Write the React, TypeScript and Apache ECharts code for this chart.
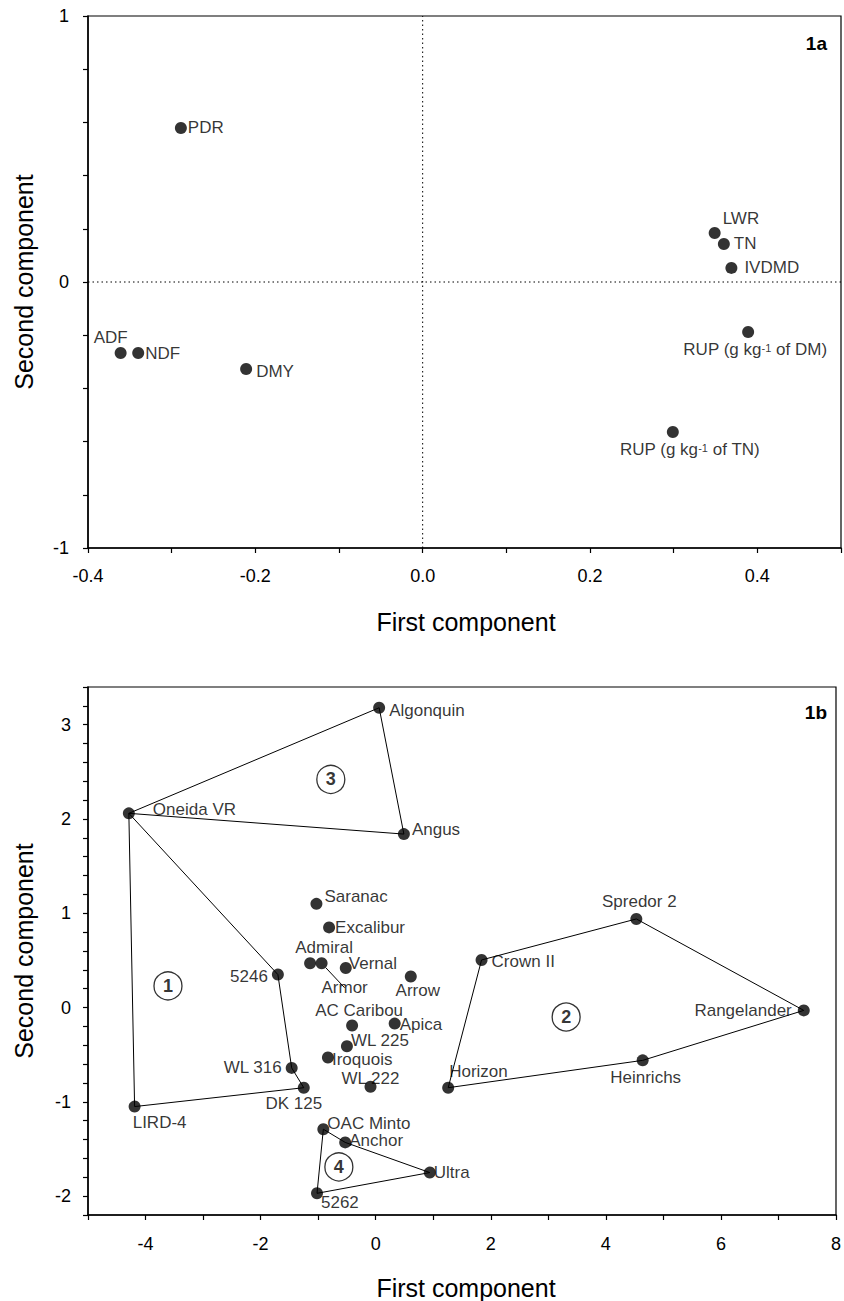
import React, { useEffect, useRef } from 'react';
import * as echarts from 'echarts';

// ---------- Panel 1a: variable loadings ----------
const varNames = ['PDR', 'LWR', 'TN', 'IVDMD', 'ADF', 'NDF', 'DMY', 'RUP (g kg-1 of DM)', 'RUP (g kg-1 of TN)'];
const varX = [-0.289, 0.349, 0.36, 0.369, -0.361, -0.34, -0.211, 0.389, 0.299];
const varY = [0.579, 0.184, 0.143, 0.053, -0.267, -0.267, -0.327, -0.188, -0.564];

// ---------- Panel 1b: cultivar scores ----------
const cvNames = ['Algonquin', 'Oneida VR', 'Angus', 'Saranac', 'Excalibur', 'Admiral', 'Armor', 'Vernal', '5246', 'Arrow',
  'Spredor 2', 'Crown II', 'Rangelander', 'Heinrichs', 'Horizon', 'AC Caribou', 'Apica', 'WL 225', 'Iroquois', 'WL 222',
  'WL 316', 'DK 125', 'LIRD-4', 'OAC Minto', 'Anchor', 'Ultra', '5262'];
const cvX = [0.06, -4.29, 0.49, -1.03, -0.81, -1.14, -0.94, -0.52, -1.7, 0.61,
  4.53, 1.84, 7.44, 4.64, 1.26, -0.41, 0.33, -0.5, -0.83, -0.09,
  -1.46, -1.25, -4.19, -0.91, -0.53, 0.94, -1.02];
const cvY = [3.18, 2.06, 1.84, 1.1, 0.85, 0.47, 0.47, 0.42, 0.35, 0.33,
  0.94, 0.505, -0.03, -0.56, -0.85, -0.19, -0.17, -0.41, -0.53, -0.84,
  -0.64, -0.85, -1.05, -1.29, -1.43, -1.75, -1.97];

// group hulls (closed outlines) and group markers
const hull1 = ['Oneida VR', '5246', 'WL 316', 'DK 125', 'LIRD-4', 'Oneida VR'];
const hull2 = ['Crown II', 'Spredor 2', 'Rangelander', 'Heinrichs', 'Horizon', 'Crown II'];
const hull3 = ['Oneida VR', 'Algonquin', 'Angus', 'Oneida VR'];
const hull4 = ['OAC Minto', 'Anchor', 'Ultra', '5262', 'OAC Minto'];
const groupIds = ['1', '2', '3', '4'];
const groupX = [-3.61, 3.31, -0.78, -0.64];
const groupY = [0.23, -0.1, 2.42, -1.69];

// axis ranges
const ax1X = [-0.4, 0.5];
const ax1Y = [-1, 1];
const ax2X = [-5, 8];
const ax2Y = [-2.2, 3.4];

// ---------- label placement (styling) ----------
type LP = { pos: string; off: number[]; line?: boolean };
const varLabelPos: Record<string, LP> = {
  'PDR': { pos: 'right', off: [-3, 0] },
  'LWR': { pos: 'right', off: [-2, -15] },
  'TN': { pos: 'right', off: [0, 0] },
  'IVDMD': { pos: 'right', off: [3, 0] },
  'ADF': { pos: 'top', off: [-10, 2] },
  'NDF': { pos: 'right', off: [-3, 0] },
  'DMY': { pos: 'right', off: [0, 3] },
  'RUP (g kg-1 of DM)': { pos: 'bottom', off: [7, 0] },
  'RUP (g kg-1 of TN)': { pos: 'bottom', off: [17, 0] },
};
const cvLabelPos: Record<string, LP> = {
  'Algonquin': { pos: 'right', off: [0, 3] },
  'Oneida VR': { pos: 'right', off: [14, -4] },
  'Angus': { pos: 'right', off: [-2, -5] },
  'Saranac': { pos: 'right', off: [-2, -7] },
  'Excalibur': { pos: 'right', off: [-4, 0] },
  'Admiral': { pos: 'top', off: [14, 2] },
  'Armor': { pos: 'bottom', off: [23, 7], line: true },
  'Vernal': { pos: 'right', off: [-7, -4] },
  '5246': { pos: 'left', off: [0, 2] },
  'Arrow': { pos: 'bottom', off: [7, -3] },
  'Spredor 2': { pos: 'top', off: [3, 0] },
  'Crown II': { pos: 'right', off: [0, 2] },
  'Rangelander': { pos: 'left', off: [-2, 0] },
  'Heinrichs': { pos: 'bottom', off: [3, 0] },
  'Horizon': { pos: 'right', off: [-9, -16] },
  'AC Caribou': { pos: 'top', off: [7, 3] },
  'Apica': { pos: 'right', off: [-5, 1] },
  'WL 225': { pos: 'right', off: [-6, -6] },
  'Iroquois': { pos: 'right', off: [-6, 2] },
  'WL 222': { pos: 'top', off: [0, 9] },
  'WL 316': { pos: 'left', off: [0, 0] },
  'DK 125': { pos: 'bottom', off: [-10, -2] },
  'LIRD-4': { pos: 'bottom', off: [25, -2] },
  'OAC Minto': { pos: 'right', off: [-6, -6] },
  'Anchor': { pos: 'right', off: [-6, -2] },
  'Ultra': { pos: 'right', off: [-6, 0] },
  '5262': { pos: 'right', off: [-6, 9] },
};

const FONT = '"Liberation Sans", Arial, Helvetica, sans-serif';
const BLACK = '#000';

function hullData(names: string[]) {
  return names.map((n) => {
    const i = cvNames.indexOf(n);
    return [cvX[i], cvY[i]];
  });
}

function labelFor(lp: LP) {
  return {
    show: true,
    position: lp.pos,
    offset: lp.off,
    distance: 4,
  };
}

export default function App() {
  const ref = useRef<HTMLDivElement>(null);

  useEffect(() => {
    if (!ref.current) return;
    const chart = echarts.init(ref.current, undefined, { renderer: 'svg' });

    const axisLineStyle = { show: true, onZero: false, lineStyle: { color: BLACK, width: 1.5 } };
    const tickStyle = { show: true, inside: false, length: 5, lineStyle: { color: BLACK, width: 1.2 } };
    const tickFont = { color: BLACK, fontSize: 18, fontFamily: FONT };

    const yFmt = (v: number) => {
      const k = Math.round(v * 5);
      return k % 5 === 0 ? String(k / 5 === 0 ? 0 : k / 5) : '';
    };

    const varData = varNames.map((n, i) => {
      const lp = varLabelPos[n];
      return { name: n, value: [varX[i], varY[i]], label: labelFor(lp) };
    });
    const cvData = cvNames.map((n, i) => {
      const lp = cvLabelPos[n];
      const item: any = { name: n, value: [cvX[i], cvY[i]], label: labelFor(lp) };
      if (lp.line) {
        item.labelLine = { show: true, length2: 0, lineStyle: { color: BLACK, width: 1 } };
      }
      return item;
    });
    const groupData = groupIds.map((g, i) => ({ name: g, value: [groupX[i], groupY[i]] }));

    const hullSeries = [hull1, hull2, hull3, hull4].map((h) => ({
      type: 'line',
      xAxisIndex: 1,
      yAxisIndex: 1,
      data: hullData(h),
      symbol: 'none',
      lineStyle: { color: BLACK, width: 1 },
      z: 2,
      silent: true,
    }));

    const pointLabelStyle = {
      color: BLACK,
      fontSize: 17,
      fontFamily: FONT,
      lineHeight: 15,
      rich: {
        sup: { fontSize: 11, fontFamily: FONT, color: BLACK, verticalAlign: 'top', lineHeight: 11 },
      },
    };

    const option: any = {
      animation: false,
      backgroundColor: '#fff',
      grid: [
        { left: 88, top: 16, width: 755, height: 532, show: true, borderColor: BLACK, borderWidth: 1.2, backgroundColor: 'transparent' },
        { left: 88, top: 687, width: 754, height: 528, show: true, borderColor: BLACK, borderWidth: 1.2, backgroundColor: 'transparent' },
      ],
      xAxis: [
        {
          type: 'value', gridIndex: 0, min: ax1X[0], max: ax1X[1], interval: 0.1,
          axisLine: axisLineStyle, axisTick: tickStyle, splitLine: { show: false },
          axisLabel: {
            ...tickFont, margin: 19, showMaxLabel: true,
            formatter: (v: number) => {
              const k = Math.round(v * 10);
              return k % 2 === 0 ? (k / 10).toFixed(1) : '';
            },
          },
        },
        {
          type: 'value', gridIndex: 1, min: ax2X[0], max: ax2X[1], interval: 1,
          axisLine: axisLineStyle, axisTick: tickStyle, splitLine: { show: false },
          axisLabel: {
            ...tickFont, margin: 20, showMaxLabel: true,
            formatter: (v: number) => (Math.round(v) % 2 === 0 ? String(Math.round(v) === 0 ? 0 : Math.round(v)) : ''),
          },
        },
      ],
      yAxis: [
        {
          type: 'value', gridIndex: 0, min: ax1Y[0], max: ax1Y[1], interval: 0.2,
          axisLine: axisLineStyle, axisTick: tickStyle, splitLine: { show: false },
          axisLabel: { ...tickFont, margin: 19, formatter: yFmt },
        },
        {
          type: 'value', gridIndex: 1, min: ax2Y[0], max: ax2Y[1], interval: 0.2,
          axisLine: axisLineStyle, axisTick: tickStyle, splitLine: { show: false },
          axisLabel: { ...tickFont, margin: 17, formatter: yFmt },
        },
      ],
      series: [
        {
          type: 'line', xAxisIndex: 0, yAxisIndex: 0, symbol: 'none', silent: true, z: 1,
          data: [[ax1X[0], 0], [ax1X[1], 0]],
          lineStyle: { color: BLACK, width: 1, type: [1.5, 3] },
        },
        {
          type: 'line', xAxisIndex: 0, yAxisIndex: 0, symbol: 'none', silent: true, z: 1,
          data: [[0, ax1Y[0]], [0, ax1Y[1]]],
          lineStyle: { color: BLACK, width: 1, type: [1.5, 3] },
        },
        {
          type: 'scatter', xAxisIndex: 0, yAxisIndex: 0, symbol: 'circle', symbolSize: 12, z: 5,
          itemStyle: { color: BLACK },
          data: varData,
          label: {
            ...pointLabelStyle,
            formatter: (p: any) => p.name.replace('kg-1', 'kg{sup|-1}'),
          },
        },
        ...hullSeries,
        {
          type: 'scatter', xAxisIndex: 1, yAxisIndex: 1, symbol: 'circle', symbolSize: 12, z: 5,
          itemStyle: { color: BLACK },
          data: cvData,
          label: { ...pointLabelStyle, formatter: (p: any) => p.name },
        },
        {
          type: 'scatter', xAxisIndex: 1, yAxisIndex: 1, symbol: 'circle', symbolSize: 28, z: 4,
          itemStyle: { color: '#fff', borderColor: BLACK, borderWidth: 1.3 },
          data: groupData,
          label: {
            show: true, position: 'inside', formatter: (p: any) => p.name,
            color: BLACK, fontSize: 18, fontWeight: 'bold', fontFamily: FONT,
          },
        },
      ],
      graphic: [
        { type: 'text', x: 24, y: 282, rotation: Math.PI / 2, style: { text: 'Second component', font: `25px ${FONT}`, fill: BLACK, align: 'center', verticalAlign: 'middle' } },
        { type: 'text', x: 466, y: 622, style: { text: 'First component', font: `25px ${FONT}`, fill: BLACK, align: 'center', verticalAlign: 'middle' } },
        { type: 'text', x: 827, y: 43, style: { text: '1a', font: `bold 19px ${FONT}`, fill: BLACK, align: 'right', verticalAlign: 'middle' } },
        { type: 'text', x: 24, y: 951, rotation: Math.PI / 2, style: { text: 'Second component', font: `25px ${FONT}`, fill: BLACK, align: 'center', verticalAlign: 'middle' } },
        { type: 'text', x: 466, y: 1288, style: { text: 'First component', font: `25px ${FONT}`, fill: BLACK, align: 'center', verticalAlign: 'middle' } },
        { type: 'text', x: 827, y: 712, style: { text: '1b', font: `bold 19px ${FONT}`, fill: BLACK, align: 'right', verticalAlign: 'middle' } },
      ],
    };

    chart.setOption(option);
    return () => chart.dispose();
  }, []);

  return (
    <div
      ref={ref}
      style={{ position: 'absolute', left: 0, top: 0, width: 844, height: 1301, background: '#fff' }}
    />
  );
}
